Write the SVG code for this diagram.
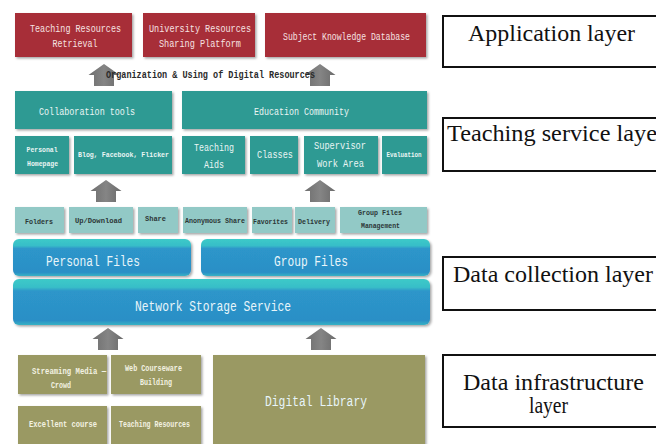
<svg xmlns="http://www.w3.org/2000/svg" width="656" height="444" viewBox="0 0 656 444">
<defs>
<filter id="sh" x="-5%" y="-5%" width="115%" height="125%">
<feDropShadow dx="1.5" dy="1.5" stdDeviation="1" flood-color="#000" flood-opacity="0.35"/>
</filter>
<linearGradient id="blue" x1="0" y1="0" x2="0" y2="1">
<stop offset="0" stop-color="#3ccac8"/>
<stop offset="0.18" stop-color="#38bec8"/>
<stop offset="0.26" stop-color="#2d96ca"/>
<stop offset="0.9" stop-color="#2b8fc6"/>
<stop offset="1" stop-color="#36b2c4"/>
</linearGradient>
<linearGradient id="arr" x1="0" y1="0" x2="1" y2="0">
<stop offset="0" stop-color="#6e6e6e"/>
<stop offset="0.5" stop-color="#858585"/>
<stop offset="1" stop-color="#6a6a6a"/>
</linearGradient>
<path id="up" d="M0,0 L15.5,11 L10,11 L10,22 L-10,22 L-10,11 L-15.5,11 Z"/>
</defs>
<style>
.red{fill:#a72f38;filter:url(#sh)}
.teal{fill:#2f9a93;filter:url(#sh)}
.lt{fill:#92c9c6;filter:url(#sh)}
.bl{fill:url(#blue);filter:url(#sh)}
.ol{fill:#9a9964;filter:url(#sh)}
.m{font-family:"Liberation Mono","DejaVu Sans Mono",monospace;text-anchor:middle}
.wr{fill:#f6e2e2;font-size:11px}
.wt{fill:#eaf5f3;font-size:11px}
.ws{fill:#eaf5f3;font-size:8px;font-weight:bold}
.dk{fill:#2c3636;font-size:8px;font-weight:bold}
.wb{fill:#e8f5fa;font-size:14px}
.wo{fill:#f3f2e2;font-size:8.5px;font-weight:bold}
.lay{fill:#fff;stroke:#111;stroke-width:2}
.lt2{font-family:"Liberation Serif","Times New Roman",serif;font-size:23px;fill:#111}
.a{fill:url(#arr)}
</style>
<rect width="656" height="444" fill="#fff"/>

<g id="connectors">
<use href="#up" class="a" x="104" y="64"/>
<use href="#up" class="a" x="320" y="64"/>
<use href="#up" class="a" x="106" y="180"/>
<use href="#up" class="a" x="320" y="180"/>
<use href="#up" class="a" x="108" y="328"/>
<use href="#up" class="a" x="321" y="328"/>
<text class="m" x="210.5" y="78" fill="#2a2a2a" font-size="11" font-weight="bold" textLength="209" lengthAdjust="spacingAndGlyphs">Organization &amp; Using of Digital Resources</text>
</g>

<g id="teaching-resources-retrieval"><rect class="red" x="15" y="13" width="117" height="44"/>
<text class="m wr" x="75.5" y="32" textLength="91" lengthAdjust="spacingAndGlyphs">Teaching Resources</text>
<text class="m wr" x="75" y="47" textLength="45" lengthAdjust="spacingAndGlyphs">Retrieval</text></g>
<g id="university-resources"><rect class="red" x="143" y="13" width="112" height="44"/>
<text class="m wr" x="200" y="32" textLength="102" lengthAdjust="spacingAndGlyphs">University Resources</text>
<text class="m wr" x="200" y="47" textLength="82" lengthAdjust="spacingAndGlyphs">Sharing Platform</text></g>
<g id="subject-knowledge"><rect class="red" x="265" y="13" width="161" height="44"/>
<text class="m wr" x="346.5" y="40" textLength="127" lengthAdjust="spacingAndGlyphs">Subject Knowledge Database</text></g>

<g id="collaboration-tools"><rect class="teal" x="15" y="91" width="157" height="38"/>
<text class="m wt" x="87" y="115" textLength="96" lengthAdjust="spacingAndGlyphs">Collaboration tools</text></g>
<g id="education-community"><rect class="teal" x="182" y="91" width="245" height="38"/>
<text class="m wt" x="301.5" y="115" textLength="95" lengthAdjust="spacingAndGlyphs">Education Community</text></g>
<g id="personal-homepage"><rect class="teal" x="15" y="136" width="54" height="38"/>
<text class="m ws" x="42" y="152" textLength="31" lengthAdjust="spacingAndGlyphs">Personal</text>
<text class="m ws" x="42.5" y="166" textLength="31" lengthAdjust="spacingAndGlyphs">Homepage</text></g>
<g id="blog"><rect class="teal" x="74" y="136" width="98" height="38"/>
<text class="m ws" x="123.5" y="157" textLength="91" lengthAdjust="spacingAndGlyphs">Blog, Facebook, Flicker</text></g>
<g id="teaching-aids"><rect class="teal" x="182" y="136" width="63" height="38"/>
<text class="m wt" x="214" y="151" textLength="40" lengthAdjust="spacingAndGlyphs">Teaching</text>
<text class="m wt" x="214" y="168" textLength="20" lengthAdjust="spacingAndGlyphs">Aids</text></g>
<g id="classes"><rect class="teal" x="250" y="136" width="48" height="38"/>
<text class="m wt" x="275" y="158" textLength="36" lengthAdjust="spacingAndGlyphs">Classes</text></g>
<g id="supervisor"><rect class="teal" x="304" y="136" width="74" height="38"/>
<text class="m wt" x="340" y="149" textLength="52" lengthAdjust="spacingAndGlyphs">Supervisor</text>
<text class="m wt" x="340.5" y="167" textLength="47" lengthAdjust="spacingAndGlyphs">Work Area</text></g>
<g id="evaluation"><rect class="teal" x="382" y="136" width="45" height="38"/>
<text class="m ws" x="404" y="157" font-size="6.5" textLength="35" lengthAdjust="spacingAndGlyphs">Evaluation</text></g>

<g id="folders"><rect class="lt" x="15" y="207" width="49" height="26"/>
<text class="m dk" x="39" y="224" textLength="28" lengthAdjust="spacingAndGlyphs">Folders</text></g>
<g id="updownload"><rect class="lt" x="69" y="207" width="64" height="26"/>
<text class="m dk" x="98.5" y="223" textLength="47" lengthAdjust="spacingAndGlyphs">Up/Download</text></g>
<g id="share"><rect class="lt" x="138" y="207" width="40" height="26"/>
<text class="m dk" x="155.5" y="221" textLength="21" lengthAdjust="spacingAndGlyphs">Share</text></g>
<g id="anonymous-share"><rect class="lt" x="183" y="207" width="64" height="26"/>
<text class="m dk" x="215" y="223" textLength="60" lengthAdjust="spacingAndGlyphs">Anonymous Share</text></g>
<g id="favorites"><rect class="lt" x="252" y="207" width="40" height="26"/>
<text class="m dk" x="270.5" y="224" textLength="35" lengthAdjust="spacingAndGlyphs">Favorites</text></g>
<g id="delivery"><rect class="lt" x="295" y="207" width="40" height="26"/>
<text class="m dk" x="314" y="224" textLength="32" lengthAdjust="spacingAndGlyphs">Delivery</text></g>
<g id="group-files-management"><rect class="lt" x="340" y="207" width="87" height="26"/>
<text class="m dk" x="380" y="215" textLength="44" lengthAdjust="spacingAndGlyphs">Group Files</text>
<text class="m dk" x="380.5" y="228" textLength="39" lengthAdjust="spacingAndGlyphs">Management</text></g>

<g id="personal-files"><rect class="bl" x="13" y="239" width="178" height="37" rx="6"/>
<text class="m wb" x="93" y="266" textLength="94" lengthAdjust="spacingAndGlyphs">Personal Files</text></g>
<g id="group-files"><rect class="bl" x="201" y="239" width="229" height="37" rx="6"/>
<text class="m wb" x="311" y="266" textLength="74" lengthAdjust="spacingAndGlyphs">Group Files</text></g>
<g id="network-storage"><rect class="bl" x="13" y="279" width="417" height="46" rx="6"/>
<text class="m wb" x="213" y="311" textLength="156" lengthAdjust="spacingAndGlyphs">Network Storage Service</text></g>

<g id="streaming-media"><rect class="ol" x="18" y="355" width="89" height="39"/>
<text class="m wo" x="69" y="374" textLength="74" lengthAdjust="spacingAndGlyphs">Streaming Media —</text>
<text class="m wo" x="61" y="388" textLength="20" lengthAdjust="spacingAndGlyphs">Crowd</text></g>
<g id="web-courseware"><rect class="ol" x="111" y="355" width="90" height="39"/>
<text class="m wo" x="153.5" y="371" textLength="57" lengthAdjust="spacingAndGlyphs">Web Courseware</text>
<text class="m wo" x="156" y="385" textLength="32" lengthAdjust="spacingAndGlyphs">Building</text></g>
<g id="excellent-course"><rect class="ol" x="18" y="406" width="89" height="42"/>
<text class="m wo" x="63" y="427" textLength="68" lengthAdjust="spacingAndGlyphs">Excellent course</text></g>
<g id="teaching-resources"><rect class="ol" x="111" y="406" width="90" height="42"/>
<text class="m wo" x="154.5" y="427" textLength="71" lengthAdjust="spacingAndGlyphs">Teaching Resources</text></g>
<g id="digital-library"><rect class="ol" x="213" y="355" width="212" height="93"/>
<text class="m wb" x="316" y="406" fill="#f3f2e2" textLength="102" lengthAdjust="spacingAndGlyphs">Digital Library</text></g>

<g id="application-layer"><rect class="lay" x="443" y="16" width="222" height="51"/>
<text class="lt2" x="468" y="41" textLength="167" lengthAdjust="spacingAndGlyphs">Application layer</text></g>
<g id="teaching-service-layer"><rect class="lay" x="443" y="118" width="222" height="53"/>
<text class="lt2" x="447" y="141" textLength="218" lengthAdjust="spacingAndGlyphs">Teaching service layer</text></g>
<g id="data-collection-layer"><rect class="lay" x="443" y="257" width="222" height="53"/>
<text class="lt2" x="453" y="282" textLength="200" lengthAdjust="spacingAndGlyphs">Data collection layer</text></g>
<g id="data-infrastructure-layer"><rect class="lay" x="443" y="355" width="222" height="72"/>
<text class="lt2" x="463" y="390" textLength="181" lengthAdjust="spacingAndGlyphs">Data infrastructure</text>
<text class="lt2" x="529" y="413" textLength="39" lengthAdjust="spacingAndGlyphs">layer</text></g>
</svg>
